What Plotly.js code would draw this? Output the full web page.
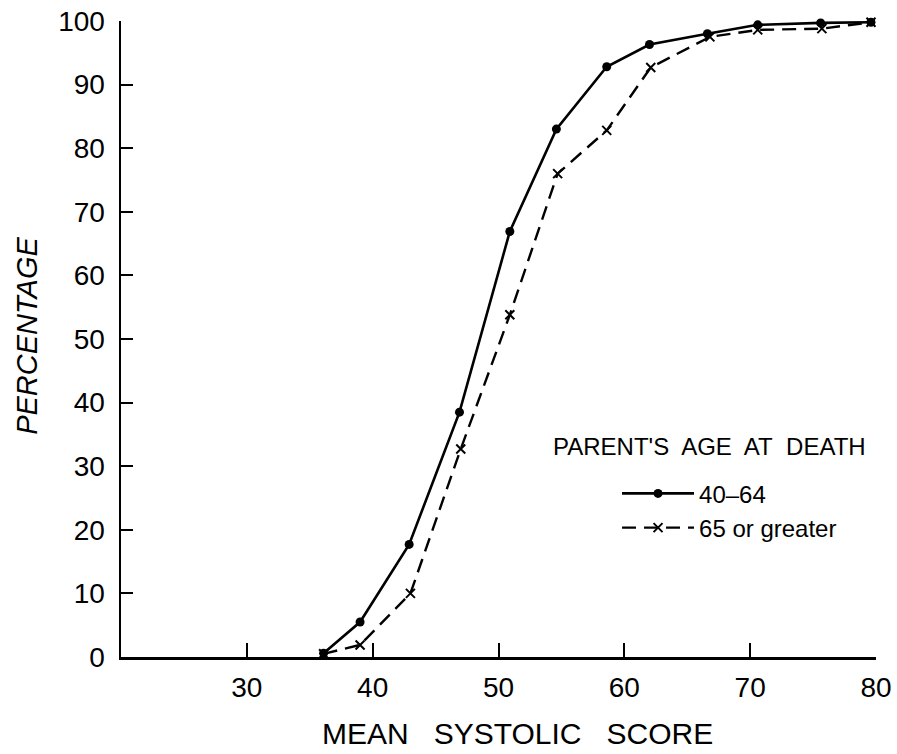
<!DOCTYPE html>
<html>
<head>
<meta charset="utf-8">
<script src="https://cdn.plot.ly/plotly-3.0.1.min.js"></script>
<style>
  html, body { margin: 0; padding: 0; background: #ffffff; }
  #chart { width: 897px; height: 754px; }
</style>
</head>
<body>
<div id="chart"></div>
<script>
// Mean systolic score (x) and cumulative percentage (y)
var scoreEarly = [36.1, 39.0, 42.9, 46.9, 50.9, 54.6, 58.6, 62.0, 66.6, 70.6, 75.6, 79.6];
var pctEarly   = [0.6, 5.5, 17.7, 38.5, 66.9, 83.0, 92.8, 96.3, 98.0, 99.4, 99.7, 99.8];

var scoreLate  = [36.1, 39.0, 43.0, 47.0, 50.9, 54.7, 58.6, 62.1, 66.8, 70.6, 75.7, 79.6];
var pctLate    = [0.5, 1.9, 10.0, 32.7, 53.8, 76.0, 82.8, 92.7, 97.5, 98.6, 98.8, 99.8];

var seriesNames = ["40\u201264", "65 or greater"];
var legendTitle = "PARENT'S\u00a0 AGE\u00a0 AT\u00a0 DEATH";
var xTicks = [30, 40, 50, 60, 70, 80];
var yTicks = [0, 10, 20, 30, 40, 50, 60, 70, 80, 90, 100];

var FONT = "Liberation Sans, Arial, sans-serif";

var traces = [
  {
    x: scoreEarly, y: pctEarly, name: seriesNames[0],
    type: "scatter", mode: "lines+markers",
    line: { color: "#000", width: 2.6 },
    marker: { color: "#000", size: 9, symbol: "circle" },
    cliponaxis: false
  },
  {
    x: scoreLate, y: pctLate, name: seriesNames[1],
    type: "scatter", mode: "lines+markers",
    line: { color: "#000", width: 2.4, dash: "14px,8px" },
    marker: { color: "#000", size: 9, symbol: "x-thin-open", line: { color: "#000", width: 2 } },
    cliponaxis: false
  }
];

var layout = {
  width: 897, height: 754,
  margin: { l: 121, r: 21, t: 21, b: 97 },
  paper_bgcolor: "#fff", plot_bgcolor: "#fff",
  font: { family: FONT, color: "#000" },
  showlegend: true,
  legend: {
    x: 0.657, y: 0.292, xanchor: "left", yanchor: "top",
    bgcolor: "rgba(0,0,0,0)",
    font: { family: FONT, size: 24, color: "#000" },
    itemwidth: 72,
    tracegroupgap: 4
  },
  xaxis: {
    range: [20, 80],
    tickvals: xTicks,
    ticktext: xTicks.map(String),
    ticks: "inside", ticklen: 14, tickwidth: 2, tickcolor: "#000",
    showline: true, linecolor: "#000", linewidth: 2.5,
    showgrid: false, zeroline: false,
    tickfont: { family: FONT, size: 28, color: "#000" },
    ticklabelstandoff: 4
  },
  yaxis: {
    range: [0, 100],
    tickvals: yTicks,
    ticktext: yTicks.map(String),
    ticks: "inside", ticklen: 12, tickwidth: 2, tickcolor: "#000",
    showline: true, linecolor: "#000", linewidth: 2.5,
    showgrid: false, zeroline: false,
    tickfont: { family: FONT, size: 28, color: "#000" },
    ticklabelstandoff: 8
  },
  annotations: [
    {
      text: "MEAN\u00a0\u00a0\u00a0SYSTOLIC\u00a0\u00a0\u00a0SCORE",
      xref: "paper", yref: "paper",
      x: 0.525, y: 0, xanchor: "center", yanchor: "middle", yshift: -76,
      showarrow: false,
      font: { family: FONT, size: 30, color: "#000" }
    },
    {
      text: "<i>PERCENTAGE</i>",
      xref: "paper", yref: "paper",
      x: 0, y: 0.505, xanchor: "center", yanchor: "middle", xshift: -94,
      textangle: -90, showarrow: false,
      font: { family: FONT, size: 29, color: "#000" }
    },
    {
      text: legendTitle,
      xref: "paper", yref: "paper",
      x: 0.78, y: 0.331, xanchor: "center", yanchor: "middle",
      showarrow: false,
      font: { family: FONT, size: 24, color: "#000" }
    }
  ]
};

Plotly.newPlot("chart", traces, layout, { displayModeBar: false, staticPlot: true });
</script>
</body>
</html>
